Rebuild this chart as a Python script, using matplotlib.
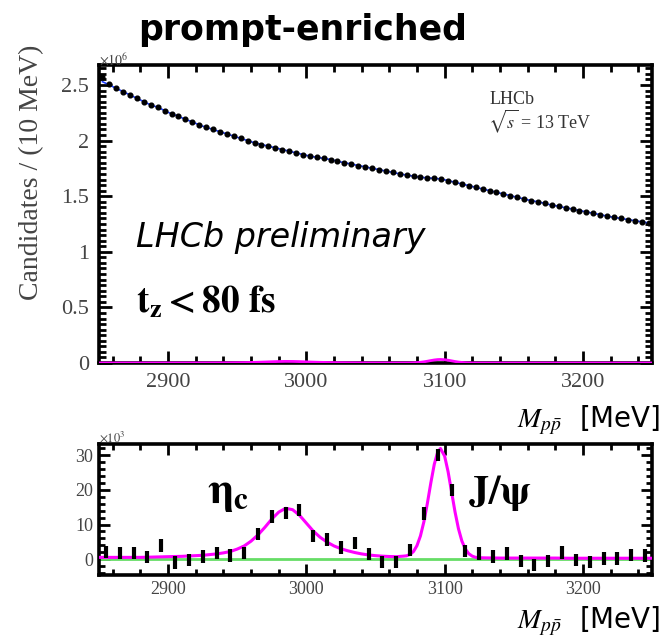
import numpy as np
import matplotlib.pyplot as plt
from matplotlib.ticker import MultipleLocator

plt.rcParams['mathtext.fontset'] = 'stix'

# prompt-enriched sample, 5 MeV bins (x10^6 candidates)
top_mass = np.arange(2852.5, 3250, 5.0)
top_counts = [2.57, 2.51, 2.47, 2.44, 2.41, 2.38, 2.35, 2.32, 2.30, 2.27,
              2.24, 2.22, 2.19, 2.17, 2.14, 2.12, 2.10, 2.08, 2.06, 2.04,
              2.02, 2.00, 1.98, 1.965, 1.95, 1.935, 1.92, 1.905, 1.89, 1.875,
              1.86, 1.85, 1.84, 1.83, 1.815, 1.80, 1.79, 1.775, 1.765, 1.75,
              1.74, 1.725, 1.715, 1.70, 1.69, 1.68, 1.67, 1.665, 1.66, 1.655,
              1.64, 1.625, 1.61, 1.595, 1.58, 1.565, 1.55, 1.535, 1.52, 1.505,
              1.49, 1.475, 1.46, 1.45, 1.435, 1.42, 1.41, 1.395, 1.385, 1.37,
              1.36, 1.345, 1.335, 1.32, 1.31, 1.30, 1.29, 1.28, 1.27, 1.26]
top_fit = [2.53, 2.50, 2.47, 2.44, 2.41, 2.38, 2.35, 2.32, 2.30, 2.27,
           2.24, 2.22, 2.19, 2.17, 2.14, 2.12, 2.10, 2.08, 2.06, 2.04,
           2.02, 2.00, 1.98, 1.965, 1.95, 1.935, 1.92, 1.905, 1.89, 1.875,
           1.86, 1.85, 1.84, 1.83, 1.815, 1.80, 1.79, 1.775, 1.765, 1.75,
           1.74, 1.725, 1.715, 1.70, 1.69, 1.68, 1.67, 1.665, 1.66, 1.655,
           1.64, 1.625, 1.61, 1.595, 1.58, 1.565, 1.55, 1.535, 1.52, 1.505,
           1.49, 1.475, 1.46, 1.45, 1.435, 1.42, 1.41, 1.395, 1.385, 1.37,
           1.36, 1.345, 1.335, 1.32, 1.31, 1.30, 1.29, 1.28, 1.27, 1.26]

# background-subtracted distribution, 10 MeV bins (x10^3 candidates)
sub_mass = np.arange(2855, 3250, 10)
sub_counts = [2.1, 1.8, 1.8, 0.6, 3.9, -1.0, -0.3, 0.7, 1.8, 1.0,
              1.8, 7.3, 12.3, 13.4, 14.2, 6.7, 5.7, 3.4, 4.7, 1.5,
              -0.8, -0.8, 2.6, 13.2, 30.1, 20.0, 2.3, 1.6, 0.7, 1.6,
              -0.6, -1.7, -0.6, 1.9, -0.3, -0.8, 0.2, 0.2, 1.2, 1.0]
sub_err = 1.8

# total fit (signal + background), x10^3
fit_mass = [2850, 2855, 2860, 2865, 2870, 2875, 2880, 2885, 2890, 2895,
            2900, 2905, 2910, 2915, 2920, 2925, 2930, 2935, 2940, 2945,
            2950, 2955, 2960, 2965, 2970, 2975, 2980, 2985, 2990, 2995,
            3000, 3005, 3010, 3015, 3020, 3025, 3030, 3035, 3040, 3045,
            3050, 3055, 3060, 3065, 3070, 3072.5, 3075, 3077.5, 3080, 3082.5,
            3085, 3087.5, 3090, 3092.5, 3095, 3097, 3100, 3102.5, 3105, 3107.5,
            3110, 3112.5, 3115, 3117.5, 3120, 3122.5, 3125, 3130, 3140, 3150,
            3160, 3170, 3180, 3190, 3200, 3210, 3220, 3230, 3240, 3250]
fit_total = [0.5, 0.5, 0.5, 0.5, 0.5, 0.5, 0.5, 0.55, 0.6, 0.65,
             0.7, 0.75, 0.8, 0.9, 1.0, 1.1, 1.3, 1.5, 1.8, 2.2,
             2.9, 3.8, 5.2, 7.0, 9.2, 11.6, 13.6, 14.7, 14.3, 12.7,
             10.4, 8.1, 6.3, 4.9, 3.8, 3.0, 2.4, 1.9, 1.5, 1.2,
             1.0, 0.85, 0.75, 0.7, 0.85, 0.95, 1.35, 2.2, 3.9, 6.7,
             10.8, 16.1, 22.0, 27.4, 31.0, 32.0, 29.8, 25.3, 19.5, 13.7,
             8.8, 5.2, 2.9, 1.55, 0.85, 0.5, 0.4, 0.35, 0.3, 0.3,
             0.3, 0.3, 0.3, 0.25, 0.25, 0.25, 0.25, 0.25, 0.25, 0.25]
bkg_mass = [2850, 3250]
bkg_level = [0.15, 0.15]

W, H = 662, 639


def fx(x):
    return x / W


def fy(y):
    return 1 - y / H


fig = plt.figure(figsize=(W / 100, H / 100), dpi=100)
ax1 = fig.add_axes([fx(99), fy(363), fx(553), 298 / H])
ax2 = fig.add_axes([fx(99), fy(575), fx(553), 131 / H])

grey = '#444444'
for ax in (ax1, ax2):
    for s in ax.spines.values():
        s.set_linewidth(2.6)
    ax.tick_params(which='both', direction='in', top=True, right=True,
                   width=2.0, colors='black', labelcolor=grey)
    ax.tick_params(which='major', length=9)
    ax.tick_params(which='minor', length=5)
    ax.set_xlim(2850, 3250)
    ax.xaxis.set_major_locator(MultipleLocator(100))
    ax.xaxis.set_minor_locator(MultipleLocator(20))

# upper panel
ax1.plot(top_mass, top_fit, color='#1f3fff', lw=1.2, zorder=2)
ax1.errorbar(top_mass, top_counts, yerr=0.015, fmt='o', ms=3.4,
             color='black', ecolor='black', elinewidth=2.2, capsize=0, zorder=3)
ax1.plot(fit_mass, (np.array(fit_total) - bkg_level[0]) / 1000.0,
         color='#ff00ff', lw=2.0, zorder=4)
ax1.set_ylim(0, 2.68)
ax1.yaxis.set_minor_locator(MultipleLocator(0.05))
ax1.set_yticks([0, 0.5, 1, 1.5, 2, 2.5], ['0', '0.5', '1', '1.5', '2', '2.5'])
ax1.tick_params(axis='both', labelsize=16, pad=7)
for lab in ax1.get_xticklabels() + ax1.get_yticklabels():
    lab.set_family('Liberation Serif')

# lower panel
ax2.plot(bkg_mass, bkg_level, color='#66dd66', lw=2.0, zorder=2)
ax2.plot(fit_mass, fit_total, color='#ff00ff', lw=2.2, zorder=3)
ax2.errorbar(sub_mass, sub_counts, yerr=sub_err, fmt='none',
             ecolor='black', elinewidth=3.0, capsize=0, zorder=4)
ax2.set_ylim(-4.6, 33.3)
ax2.yaxis.set_major_locator(MultipleLocator(10))
ax2.yaxis.set_minor_locator(MultipleLocator(2))
ax2.tick_params(axis='both', labelsize=13, pad=4)
ax2.tick_params(which='major', length=8)
ax2.tick_params(which='minor', length=4)
for lab in ax2.get_xticklabels() + ax2.get_yticklabels():
    lab.set_family('Liberation Serif')

# annotations
fig.text(fx(303), fy(30), 'prompt-enriched', ha='center', va='center',
         fontsize=25, fontweight='bold', family='DejaVu Sans')
fig.text(fx(99), fy(60), r'$\times10^{6}$', ha='left', va='center',
         fontsize=10, color=grey)
fig.text(fx(99), fy(437), r'$\times10^{3}$', ha='left', va='center',
         fontsize=9, color=grey)
fig.text(fx(32), fy(172), 'Candidates / (10 MeV)', rotation=90,
         ha='center', va='center', fontsize=20, color=grey,
         family='Liberation Serif')
fig.text(fx(490), fy(100), 'LHCb', ha='left', va='center', fontsize=13,
         family='Liberation Serif', color='#333333')
fig.text(fx(488), fy(121), r'$\sqrt{s}$ = 13 TeV', ha='left', va='center',
         fontsize=13, family='Liberation Serif', color='#333333')
fig.text(fx(136), fy(237), 'LHCb preliminary', ha='left', va='center',
         fontsize=24, style='italic', family='DejaVu Sans')
fig.text(fx(136), fy(302), r'$\mathbf{t_{z} < 80\ fs}$', ha='left',
         va='center', fontsize=27)
fig.text(fx(207), fy(493), r'$\mathbf{\eta_{c}}$', ha='left', va='center',
         fontsize=32)
fig.text(fx(468), fy(493), r'$\mathbf{J/\psi}$', ha='left', va='center',
         fontsize=29)
for ypos in (420, 621):
    fig.text(fx(660), fy(ypos), r'$M_{p\bar{p}}$  [MeV]', ha='right',
             va='center', fontsize=20, family='DejaVu Sans')

fig.savefig('out.png', dpi=100)
